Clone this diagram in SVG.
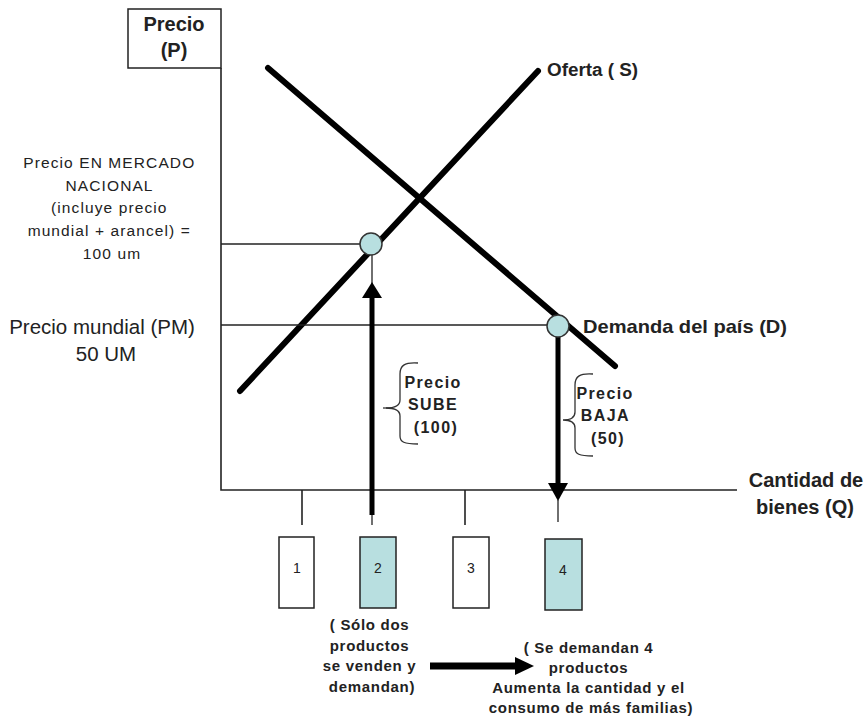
<svg xmlns="http://www.w3.org/2000/svg" width="867" height="717" viewBox="0 0 867 717">
<style>
.ax{stroke:#222;stroke-width:1.6;fill:none}
.thin{stroke:#222;stroke-width:1.3;fill:none}
.curve{stroke:#000;stroke-width:6;fill:none;stroke-linecap:round}
.pt{fill:#b8dfe0;stroke:#333;stroke-width:1.5}
.box{fill:#fff;stroke:#222;stroke-width:1.5}
.boxs{fill:#b8dfe0;stroke:#222;stroke-width:1.5}
.brace{stroke:#333;stroke-width:1.3;fill:none}
text{font-family:"Liberation Sans",Arial,sans-serif;fill:#222}
.b{font-weight:bold}
.sm{font-size:16px;letter-spacing:1.4px;font-weight:bold}
.num{font-size:14px}
.note{font-size:15px;font-weight:bold;letter-spacing:0.7px}
</style>
<g id="axis-label-p">
<rect x="128" y="9" width="93" height="59" class="box"/>
<text x="174" y="31" text-anchor="middle" class="b" style="font-size:20px">Precio</text>
<text x="174" y="57" text-anchor="middle" class="b" style="font-size:20px">(P)</text>
</g>
<g id="axes">
<polyline points="221,68 221,490 737,490" class="ax"/>
<line x1="302" y1="490" x2="302" y2="525" class="ax"/>
<line x1="465" y1="490" x2="465" y2="525" class="ax"/>
</g>
<g id="label-q">
<text x="806" y="487" text-anchor="middle" class="b" style="font-size:20px">Cantidad de</text>
<text x="805" y="514" text-anchor="middle" class="b" style="font-size:20px">bienes (Q)</text>
</g>
<g id="supply">
<line x1="240" y1="391" x2="538" y2="71" class="curve"/>
<text x="547" y="76" class="b" style="font-size:18px" textLength="91" lengthAdjust="spacingAndGlyphs">Oferta ( S)</text>
</g>
<g id="demand">
<line x1="268" y1="68" x2="615" y2="366" class="curve"/>
<text x="583" y="333" class="b" style="font-size:19px" textLength="204" lengthAdjust="spacingAndGlyphs">Demanda del país (D)</text>
</g>
<g id="label-nacional">
<text text-anchor="middle" style="font-size:15.5px;letter-spacing:1.1px">
<tspan x="112" y="168">Precio EN MERCADO</tspan>
<tspan x="112" y="191">NACIONAL</tspan>
<tspan x="112" y="213">(incluye precio</tspan>
<tspan x="112" y="236">mundial + arancel) =</tspan>
<tspan x="112" y="259">100 um</tspan>
</text>
</g>
<g id="label-mundial">
<text x="102" y="334" text-anchor="middle" style="font-size:20.5px">Precio mundial (PM)</text>
<text x="106" y="361" text-anchor="middle" style="font-size:20.5px">50 UM</text>
</g>
<g id="connectors">
<line x1="221" y1="244" x2="362" y2="244" class="thin"/>
<line x1="221" y1="325" x2="548" y2="325" class="thin"/>
<line x1="372" y1="255" x2="372" y2="290" class="thin"/>
<line x1="372" y1="515" x2="372" y2="525" class="thin"/>
<line x1="372" y1="515" x2="372" y2="296" stroke="#000" stroke-width="5"/>
<polygon points="372,282 382,298 362,298" fill="#000"/>
<line x1="558" y1="337" x2="558" y2="486" stroke="#000" stroke-width="5"/>
<polygon points="558,501 568,483 548,483" fill="#000"/>
<line x1="558" y1="500" x2="558" y2="522" class="thin"/>
<line x1="430" y1="666" x2="518" y2="666" stroke="#000" stroke-width="7"/>
<polygon points="534,666 515,657 515,675" fill="#000"/>
</g>
<g id="point-a"><circle cx="371" cy="244" r="11" class="pt"/></g>
<g id="point-b"><circle cx="558" cy="326" r="11" class="pt"/></g>
<g id="brace-sube">
<path d="M418,363 C404,362 400,366 400,374 L400,400 C400,405 396,408 386,408 C396,408 400,411 400,416 L400,436 C400,442 404,444 418,444" class="brace"/>
<line x1="383" y1="408" x2="392" y2="408" class="brace"/>
<text text-anchor="middle" class="sm">
<tspan x="436" y="388">Precio</tspan>
<tspan x="436" y="410">SUBE</tspan>
<tspan x="436" y="433">(100)</tspan>
</text>
</g>
<g id="brace-baja">
<path d="M593,374 C579,373 575,377 575,385 L575,412 C575,417 571,420 563,420 C571,420 575,423 575,428 L575,448 C575,454 579,456 593,456" class="brace"/>
<text text-anchor="middle" class="sm">
<tspan x="608" y="399">Precio</tspan>
<tspan x="608" y="421">BAJA</tspan>
<tspan x="608" y="444">(50)</tspan>
</text>
</g>
<g id="box-1"><rect x="279" y="537" width="35" height="71" class="box"/><text x="297" y="573" text-anchor="middle" class="num">1</text></g>
<g id="box-2"><rect x="360" y="537" width="36" height="71" class="boxs"/><text x="378" y="573" text-anchor="middle" class="num">2</text></g>
<g id="box-3"><rect x="453" y="537" width="36" height="71" class="box"/><text x="471" y="573" text-anchor="middle" class="num">3</text></g>
<g id="box-4"><rect x="545" y="539" width="37" height="71" class="boxs"/><text x="563" y="575" text-anchor="middle" class="num">4</text></g>
<g id="note-dos">
<text text-anchor="middle" class="note">
<tspan x="372" y="630">( Sólo dos</tspan>
<tspan x="372" y="651">productos</tspan>
<tspan x="372" y="671">se venden y</tspan>
<tspan x="372" y="692">demandan)</tspan>
</text>
</g>
<g id="note-cuatro">
<text text-anchor="middle" class="note">
<tspan x="591" y="653">( Se demandan 4</tspan>
<tspan x="591" y="673">productos</tspan>
<tspan x="591" y="693">Aumenta la cantidad y el</tspan>
<tspan x="591" y="713">consumo de más familias)</tspan>
</text>
</g>
</svg>
